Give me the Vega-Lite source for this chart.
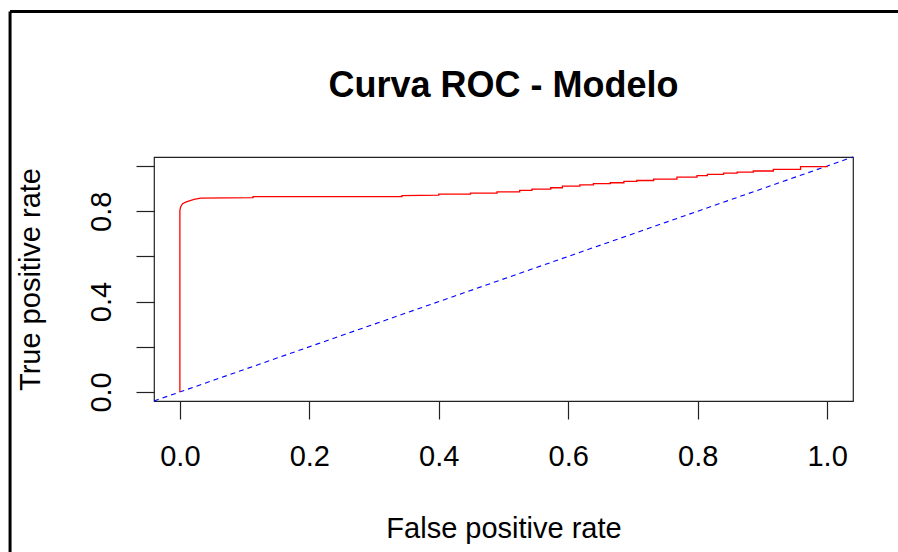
{
  "$schema": "https://vega.github.io/schema/vega-lite/v6.json",
  "width": 699,
  "height": 244,
  "autosize": {"type": "none"},
  "padding": {"left": 154, "top": 157, "right": 45, "bottom": 151},
  "background": "white",
  "config": {
    "font": "Liberation Sans",
    "view": {"stroke": "#222222", "strokeWidth": 1.2}
  },
  "title": {
    "text": "Curva ROC - Modelo",
    "fontSize": 36,
    "fontWeight": "bold",
    "color": "black",
    "anchor": "middle",
    "baseline": "alphabetic",
    "offset": 22,
    "dy": 145,
    "font": "Liberation Sans"
  },
  "datasets": {
    "diag": [
      {"fpr": -0.04, "tpr": -0.04},
      {"fpr": 1.04, "tpr": 1.04}
    ],
    "frame": [
      {"label": "window"}
    ],
    "roc": [
      {"fpr": 0, "tpr": 0},
      {"fpr": 0, "tpr": 0.803},
      {"fpr": 0.001, "tpr": 0.818},
      {"fpr": 0.004, "tpr": 0.833},
      {"fpr": 0.009, "tpr": 0.840},
      {"fpr": 0.017, "tpr": 0.848},
      {"fpr": 0.022, "tpr": 0.852},
      {"fpr": 0.032, "tpr": 0.858},
      {"fpr": 0.113, "tpr": 0.860},
      {"fpr": 0.113, "tpr": 0.865},
      {"fpr": 0.343, "tpr": 0.865},
      {"fpr": 0.343, "tpr": 0.869},
      {"fpr": 0.400, "tpr": 0.871},
      {"fpr": 0.400, "tpr": 0.876},
      {"fpr": 0.449, "tpr": 0.876},
      {"fpr": 0.449, "tpr": 0.880},
      {"fpr": 0.490, "tpr": 0.880},
      {"fpr": 0.490, "tpr": 0.886},
      {"fpr": 0.525, "tpr": 0.886},
      {"fpr": 0.525, "tpr": 0.892},
      {"fpr": 0.544, "tpr": 0.892},
      {"fpr": 0.544, "tpr": 0.898},
      {"fpr": 0.573, "tpr": 0.898},
      {"fpr": 0.573, "tpr": 0.904},
      {"fpr": 0.591, "tpr": 0.904},
      {"fpr": 0.591, "tpr": 0.911},
      {"fpr": 0.618, "tpr": 0.911},
      {"fpr": 0.618, "tpr": 0.917},
      {"fpr": 0.639, "tpr": 0.917},
      {"fpr": 0.639, "tpr": 0.922},
      {"fpr": 0.665, "tpr": 0.922},
      {"fpr": 0.665, "tpr": 0.926},
      {"fpr": 0.686, "tpr": 0.926},
      {"fpr": 0.686, "tpr": 0.932},
      {"fpr": 0.706, "tpr": 0.932},
      {"fpr": 0.706, "tpr": 0.936},
      {"fpr": 0.732, "tpr": 0.936},
      {"fpr": 0.732, "tpr": 0.942},
      {"fpr": 0.768, "tpr": 0.942},
      {"fpr": 0.768, "tpr": 0.951},
      {"fpr": 0.799, "tpr": 0.951},
      {"fpr": 0.799, "tpr": 0.958},
      {"fpr": 0.815, "tpr": 0.958},
      {"fpr": 0.815, "tpr": 0.963},
      {"fpr": 0.840, "tpr": 0.963},
      {"fpr": 0.840, "tpr": 0.969},
      {"fpr": 0.861, "tpr": 0.969},
      {"fpr": 0.861, "tpr": 0.973},
      {"fpr": 0.886, "tpr": 0.973},
      {"fpr": 0.886, "tpr": 0.978},
      {"fpr": 0.917, "tpr": 0.978},
      {"fpr": 0.917, "tpr": 0.985},
      {"fpr": 0.959, "tpr": 0.985},
      {"fpr": 0.959, "tpr": 0.997},
      {"fpr": 1.0, "tpr": 0.997},
      {"fpr": 1.0, "tpr": 1.0}
    ]
  },
  "layer": [
    {
      "data": {"name": "diag"},
      "mark": {"type": "line", "color": "#0000FF", "strokeDash": [5, 4], "strokeWidth": 1.1},
      "encoding": {
        "x": {
          "field": "fpr",
          "type": "quantitative",
          "scale": {"domain": [-0.04, 1.04], "nice": false, "zero": false},
          "axis": {
            "values": [0, 0.2, 0.4, 0.6, 0.8, 1],
            "format": ".1f",
            "domain": false,
            "grid": false,
            "tickSize": 18,
            "tickColor": "#222222",
            "tickWidth": 1.2,
            "labelFontSize": 29,
            "labelColor": "black",
            "labelBaseline": "alphabetic",
            "labelPadding": 46,
            "labelFlush": false,
            "labelOverlap": false,
            "title": "False positive rate",
            "titleFontSize": 29,
            "titleFontWeight": "normal",
            "titleColor": "black",
            "titleBaseline": "alphabetic",
            "titleY": 136
          }
        },
        "y": {
          "field": "tpr",
          "type": "quantitative",
          "scale": {"domain": [-0.04, 1.04], "nice": false, "zero": false},
          "axis": {
            "values": [0, 0.2, 0.4, 0.6, 0.8, 1],
            "format": ".1f",
            "labelExpr": "indexof(['0.0','0.4','0.8'], datum.label) >= 0 ? datum.label : ''",
            "domain": false,
            "grid": false,
            "tickSize": 18,
            "tickColor": "#222222",
            "tickWidth": 1.2,
            "labelFontSize": 29,
            "labelColor": "black",
            "labelAngle": 270,
            "labelAlign": "center",
            "labelBaseline": "alphabetic",
            "labelPadding": 26,
            "labelFlush": false,
            "labelOverlap": false,
            "title": "True positive rate",
            "titleFontSize": 29,
            "titleFontWeight": "normal",
            "titleColor": "black",
            "titleAngle": 270,
            "titleBaseline": "alphabetic",
            "titleX": -115
          }
        }
      }
    },
    {
      "data": {"name": "roc"},
      "mark": {"type": "line", "color": "#FF0000", "strokeWidth": 1.3},
      "encoding": {
        "x": {"field": "fpr", "type": "quantitative"},
        "y": {"field": "tpr", "type": "quantitative"},
        "order": {"value": null}
      }
    },
    {
      "data": {"name": "frame"},
      "mark": {"type": "rule", "color": "black", "strokeWidth": 3, "clip": false},
      "encoding": {
        "x": {"datum": -0.2624, "type": "quantitative"},
        "y": {"datum": 1.684, "type": "quantitative"},
        "y2": {"datum": -0.8}
      }
    },
    {
      "data": {"name": "frame"},
      "mark": {"type": "rule", "color": "black", "strokeWidth": 3, "clip": false},
      "encoding": {
        "x": {"datum": -0.2624, "type": "quantitative"},
        "x2": {"datum": 1.3},
        "y": {"datum": 1.684, "type": "quantitative"}
      }
    }
  ]
}
